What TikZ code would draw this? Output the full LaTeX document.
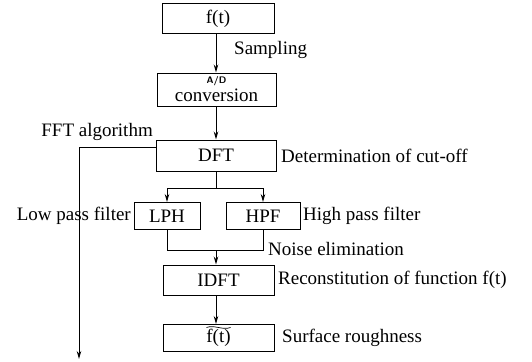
\documentclass[tikz,border=0pt]{standalone}
\usepackage{fontspec}
\setmainfont{Liberation Serif}
\usetikzlibrary{arrows.meta}

\tikzset{
  box/.style={draw, line width=1pt, inner sep=0pt, align=center,
              font=\fontsize{19}{21}\selectfont},
  lbl/.style={inner sep=0pt, font=\fontsize{19}{21}\selectfont},
  link/.style={line width=0.9pt},
  arr/.style={link, -{Stealth[length=8pt,width=4.5pt]}}
}

\begin{document}
\begin{tikzpicture}[x=1pt, y=-1pt]
  \useasboundingbox (0,0) rectangle (532,361);

  % processing blocks
  \node[box, minimum width=112pt, minimum height=30pt] (ft)   at (218,19)    {f(t)};
  \node[box, minimum width=119pt, minimum height=33pt] (ad)   at (216.5,89.5)
       {\raisebox{1pt}{\fontsize{9.5}{9.5}\selectfont\bfseries\sffamily A/D}\\[-4pt]conversion};
  \node[box, minimum width=120pt, minimum height=31pt] (dft)  at (216,155.5) {DFT};
  \node[box, minimum width=66pt,  minimum height=27pt] (lph)  at (167,216)   {LPH};
  \node[box, minimum width=74pt,  minimum height=27pt] (hpf)  at (263,216)   {HPF};
  \node[box, minimum width=111pt, minimum height=30pt] (idft) at (218.5,280) {IDFT};
  \node[box, minimum width=111pt, minimum height=27pt] (ftil) at (218.5,338)
       {\raisebox{-5pt}{f(t)}};
  % wide tilde over f(t)
  \draw[line width=0.7pt] ([xshift=-12pt,yshift=-3.5pt]ftil.north)
       .. controls +(8pt,3pt) and +(-8pt,-3pt) .. ([xshift=12pt,yshift=-3.5pt]ftil.north);

  % side labels
  \node[lbl, anchor=west] (samp) at (234,50)  {Sampling};
  \node[lbl, anchor=east] (fft)  at (153,132) {FFT algorithm};
  \node[lbl, anchor=west] (cut)  at (281,155.5) {Determination of cut-off};
  \node[lbl, anchor=east] (lowp) at (131,216) {Low pass filter};
  \node[lbl, anchor=west] (hip)  at (303,216) {High pass filter};
  \node[lbl, anchor=west] (noise) at (268,249) {Noise elimination};
  \node[lbl, anchor=west] (recon) at (278,280) {Reconstitution of function f(t)};
  \node[lbl, anchor=west] (surf) at (282,338) {Surface roughness};

  % routing points
  \coordinate (trunk)  at (216,0);
  \coordinate (split)  at (216,188);
  \coordinate (merge)  at (216,250);
  \coordinate (fftend) at (79,359);

  % main chain
  \draw[arr] (ft.south -| trunk) -- (ad.north -| trunk);
  \draw[arr] (ad.south -| trunk) -- (dft.north -| trunk);
  \draw[link] (dft.south -| trunk) -- (split);
  \draw[arr] (split) -| (lph.north);
  \draw[arr] (split) -| (hpf.north);
  \draw[link] (lph.south) |- (merge);
  \draw[link] (hpf.south) |- (merge);
  \draw[arr] (merge) -- (idft.north -| merge);
  \draw[arr] (idft.south -| trunk) -- (ftil.north -| trunk);

  % FFT branch
  \draw[arr] ([yshift=8.5pt]dft.west) -| (fftend);
\end{tikzpicture}
\end{document}
